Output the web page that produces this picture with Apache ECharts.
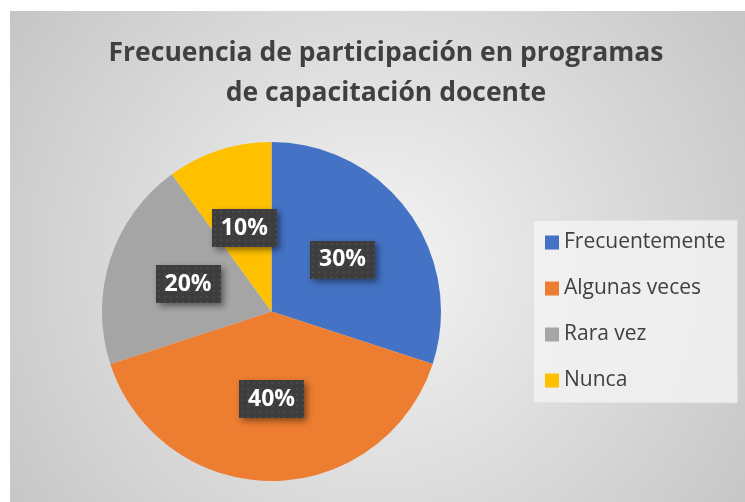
<!DOCTYPE html>
<html>
<head>
<meta charset="utf-8">
<script src="https://cdn.jsdelivr.net/npm/echarts@6/dist/echarts.min.js"></script>
<style>
  html, body { margin: 0; padding: 0; background: #fff; }
  #chart { position: absolute; left: 10px; top: 11px; width: 735px; height: 491px; }
</style>
</head>
<body>
<div id="chart"></div>
<script>
// Datos del gráfico
const categories = ['Frecuentemente', 'Algunas veces', 'Rara vez', 'Nunca'];
const values = [30, 40, 20, 10];
const colors = ['#4472C4', '#ED7D31', '#A5A5A5', '#FFC000'];

// Textura punteada para las etiquetas
function dotPattern() {
  const c = document.createElement('canvas');
  c.width = 64; c.height = 40;
  const ctx = c.getContext('2d');
  ctx.fillStyle = '#3d3d3d';
  ctx.fillRect(0, 0, c.width, c.height);
  ctx.fillStyle = '#4c4c4c';
  for (let y = 2; y < c.height; y += 6) {
    for (let x = 2; x < c.width; x += 6) {
      ctx.fillRect(x, y, 2, 2);
    }
  }
  return c;
}

const chart = echarts.init(document.getElementById('chart'));
chart.setOption({
  backgroundColor: {
    type: 'radial', x: 0.5, y: 0.52, r: 0.9,
    colorStops: [
      { offset: 0, color: '#f4f4f4' },
      { offset: 1, color: '#c6c6c6' }
    ]
  },
  title: {
    text: 'Frecuencia de participación en programas\nde capacitación docente',
    left: 371,
    top: 17,
    textAlign: 'center',
    textStyle: {
      fontFamily: 'Open Sans',
      fontWeight: 'bold',
      fontSize: 26.5,
      lineHeight: 40,
      color: '#404040'
    }
  },
  legend: {
    orient: 'vertical',
    left: 523,
    top: 209,
    padding: [12, 12, 12, 12],
    itemGap: 25,
    itemWidth: 14,
    itemHeight: 14,
    icon: 'rect',
    backgroundColor: 'rgba(242,242,242,0.85)',
    borderColor: '#d9d9d9',
    borderWidth: 1,
    textStyle: {
      fontFamily: 'Open Sans',
      fontSize: 21,
      color: '#404040'
    },
    data: categories
  },
  series: [{
    type: 'pie',
    center: [261.5, 300.5],
    radius: 169.5,
    startAngle: 90,
    clockwise: true,
    silent: true,
    label: {
      show: true,
      position: 'inside',
      formatter: '{c}%',
      fontFamily: 'Open Sans',
      fontWeight: 'bold',
      fontSize: 23,
      color: '#fff',
      backgroundColor: { image: dotPattern() },
      padding: [8, 9, 7, 9],
      shadowColor: 'rgba(0,0,0,0.45)',
      shadowBlur: 6,
      shadowOffsetX: 3,
      shadowOffsetY: 3
    },
    labelLine: { show: false },
    itemStyle: { borderWidth: 0 },
    data: categories.map((name, i) => ({
      name: name,
      value: values[i],
      itemStyle: { color: colors[i] }
    }))
  }]
});
</script>
</body>
</html>
